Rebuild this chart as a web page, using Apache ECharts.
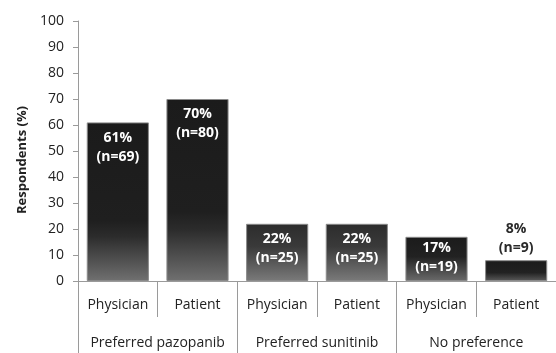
<!DOCTYPE html>
<html>
<head>
<meta charset="utf-8">
<script src="https://cdn.jsdelivr.net/npm/echarts@6/dist/echarts.min.js"></script>
<style>
  html, body { margin: 0; padding: 0; background: #fff; }
  #chart { width: 556px; height: 353px; }
</style>
</head>
<body>
<div id="chart"></div>
<script>
// Respondent groups and preference outcomes
const respondents = ['Physician', 'Patient', 'Physician', 'Patient', 'Physician', 'Patient'];
const preferences = ['Preferred pazopanib', 'Preferred sunitinib', 'No preference'];
const percentValues = [61, 70, 22, 22, 17, 8];
const counts = [69, 80, 25, 25, 19, 9];
const yTicks = { min: 0, max: 100, step: 10 };

const FONT = '"Open Sans", "Noto Sans", sans-serif';

// Shading for each bar: dark top fading into grey at the base
function shade(stops) {
  return {
    type: 'linear', x: 0, y: 0, x2: 0, y2: 1,
    colorStops: stops.map(s => ({ offset: s[0], color: s[1] }))
  };
}
const barShades = [
  shade([[0, '#1b1b1b'], [0.62, '#1f1f1f'], [0.72, '#2c2c2c'], [1, '#707070']]),
  shade([[0, '#1b1b1b'], [0.62, '#1f1f1f'], [0.72, '#2c2c2c'], [1, '#707070']]),
  shade([[0, '#2c2c2c'], [0.4, '#3a3a3a'], [1, '#7a7a7a']]),
  shade([[0, '#2c2c2c'], [0.4, '#3a3a3a'], [1, '#7a7a7a']]),
  shade([[0, '#1b1b1b'], [0.45, '#222'], [1, '#6a6a6a']]),
  shade([[0, '#1b1b1b'], [0.6, '#222'], [1, '#5a5a5a']])
];

const seriesData = percentValues.map((v, i) => {
  const item = {
    value: v,
    itemStyle: { color: barShades[i] }
  };
  if (i === 4) {
    item.label = { distance: 2 };
  }
  if (i === 5) {
    item.label = { position: 'top', color: '#2a2a2a', distance: 3 };
  }
  return item;
});

const chart = echarts.init(document.getElementById('chart'), null, { renderer: 'canvas' });
chart.setOption({
  animation: false,
  backgroundColor: '#fff',
  grid: { left: 78, right: 0, top: 21, bottom: 72, containLabel: false },
  xAxis: [
    {
      type: 'category',
      data: respondents,
      position: 'bottom',
      axisLine: { show: true, lineStyle: { color: '#9a9a9a', width: 1 } },
      axisTick: { show: true, interval: 0, length: 36, lineStyle: { color: '#9a9a9a' } },
      axisLabel: { interval: 0, margin: 17, color: '#222', fontSize: 14, fontFamily: FONT }
    },
    {
      type: 'category',
      data: preferences,
      position: 'bottom',
      axisLine: { show: false },
      axisTick: { show: true, interval: 0, length: 72, lineStyle: { color: '#9a9a9a' } },
      axisLabel: { interval: 0, margin: 55, color: '#222', fontSize: 14, fontFamily: FONT }
    }
  ],
  yAxis: {
    type: 'value',
    min: yTicks.min,
    max: yTicks.max,
    interval: yTicks.step,
    name: 'Respondents (%)',
    nameLocation: 'middle',
    nameRotate: 90,
    nameGap: 49,
    nameTextStyle: { color: '#222', fontSize: 13, fontWeight: 'bold', fontFamily: FONT, padding: [0, 18, 0, 0] },
    axisLine: { show: true, lineStyle: { color: '#9a9a9a', width: 1 } },
    axisTick: { show: true, length: 5, lineStyle: { color: '#9a9a9a' } },
    splitLine: { show: false },
    axisLabel: { margin: 14, color: '#222', fontSize: 14, fontFamily: FONT }
  },
  series: [{
    type: 'bar',
    xAxisIndex: 0,
    data: seriesData,
    barWidth: '78%',
    itemStyle: { borderColor: '#8a8a8a', borderWidth: 1 },
    label: {
      show: true,
      position: 'insideTop',
      distance: 6,
      color: '#fff',
      fontSize: 14,
      fontWeight: 'bold',
      fontFamily: FONT,
      lineHeight: 19,
      formatter: p => p.value + '%\n(n=' + counts[p.dataIndex] + ')'
    }
  }]
});
</script>
</body>
</html>
